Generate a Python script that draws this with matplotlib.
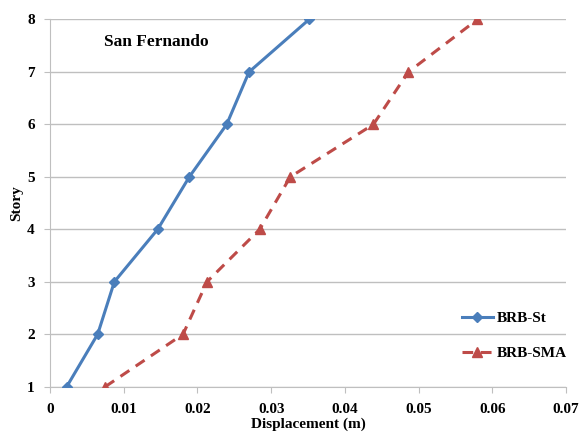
import matplotlib.pyplot as plt

plt.rcParams['font.family'] = 'Liberation Serif'
plt.rcParams['font.weight'] = 'bold'

story = [1, 2, 3, 4, 5, 6, 7, 8]
disp_st = [0.00227, 0.00647, 0.00873, 0.01461, 0.0189, 0.02397, 0.0270, 0.03514]
disp_sma = [0.0075, 0.01805, 0.0213, 0.02845, 0.0326, 0.04387, 0.04862, 0.05798]

fig = plt.figure(figsize=(5.8, 4.33), dpi=100)
ax = fig.add_axes([0.0862, 0.107, 0.8897, 0.848])

ax.plot(disp_st, story, color='#4a7ebb', lw=2.2, marker='D', ms=5,
        label='BRB-St', zorder=3)
ax.plot(disp_sma, story, color='#be4b48', lw=2.2, ls=(0, (3.5, 2.5)),
        marker='^', ms=7, label='BRB-SMA', zorder=3)

ax.set_xlim(0, 0.07)
ax.set_ylim(1, 8)
ax.set_xticks([0, 0.01, 0.02, 0.03, 0.04, 0.05, 0.06, 0.07])
ax.set_xticklabels(['0', '0.01', '0.02', '0.03', '0.04', '0.05', '0.06', '0.07'])
ax.set_yticks(range(1, 9))
ax.grid(axis='y', color='#bfbfbf', lw=1)
ax.set_axisbelow(True)
for s in ['top', 'right']:
    ax.spines[s].set_visible(False)
for s in ['left', 'bottom']:
    ax.spines[s].set_color('#bfbfbf')
ax.tick_params(axis='both', labelsize=11, color='#bfbfbf', length=4)
ax.tick_params(axis='x', pad=8)
ax.tick_params(axis='y', pad=7)

ax.set_xlabel('Displacement (m)', fontsize=11, fontweight='bold', labelpad=1)
ax.set_ylabel('Story', fontsize=11, fontweight='bold', labelpad=3)

ax.text(0.105, 0.94, 'San Fernando', transform=ax.transAxes, fontsize=12.5,
        fontweight='bold', va='center')

leg = ax.legend(loc='center left', bbox_to_anchor=(0.772, 0.139), frameon=False,
                fontsize=11, labelspacing=1.4, handlelength=2.0,
                handletextpad=0.3)

fig.savefig('out.png', dpi=100)
